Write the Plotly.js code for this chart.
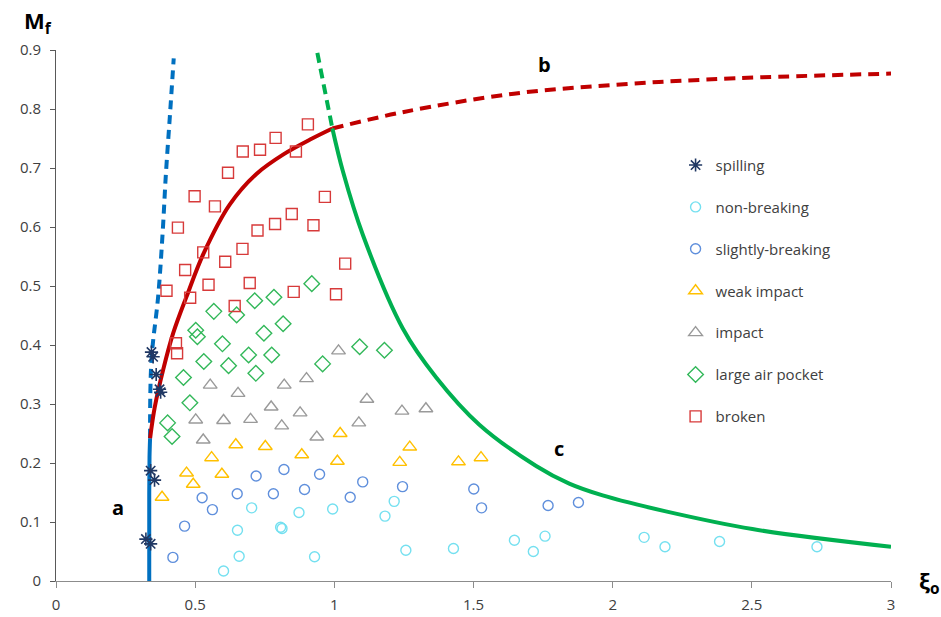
<!DOCTYPE html>
<html>
<head>
<meta charset="utf-8">
<script src="https://cdn.plot.ly/plotly-3.0.1.min.js"></script>
<style>html,body{margin:0;padding:0;background:#fff;}#chart{width:941px;height:617px;}</style>
</head>
<body>
<div id="chart"></div>
<script>
// ---- data ----
const seriesNames = ["spilling","non-breaking","slightly-breaking","weak impact","impact","large air pocket","broken"];

const spillingX = [0.343,0.349,0.360,0.372,0.376,0.340,0.354,0.323,0.340];
const spillingY = [0.388,0.380,0.350,0.325,0.320,0.187,0.171,0.071,0.063];

const nonBreakingX = [0.703,0.873,0.994,0.652,0.807,0.812,0.658,0.929,0.602,1.215,1.182,1.257,1.428,1.647,1.757,1.715,2.113,2.188,2.384,2.734];
const nonBreakingY = [0.124,0.116,0.122,0.086,0.091,0.089,0.042,0.041,0.017,0.135,0.110,0.052,0.055,0.069,0.076,0.050,0.074,0.058,0.067,0.058];

const slightlyX = [0.719,0.819,0.947,1.102,0.525,0.651,0.781,0.893,1.057,0.562,0.462,0.420,1.245,1.501,1.529,1.768,1.877];
const slightlyY = [0.178,0.189,0.181,0.168,0.141,0.148,0.148,0.155,0.142,0.121,0.093,0.040,0.160,0.156,0.124,0.128,0.133];

const weakX = [1.021,0.646,0.752,0.559,0.883,1.011,0.469,0.596,0.493,0.381,1.271,1.235,1.446,1.527];
const weakY = [0.250,0.231,0.228,0.209,0.214,0.203,0.183,0.181,0.164,0.142,0.227,0.201,0.202,0.209];

const impactX = [1.015,0.554,0.654,0.820,0.900,1.117,0.773,0.877,0.502,0.602,0.699,0.811,1.088,0.529,0.937,1.243,1.329];
const impactY = [0.390,0.332,0.318,0.332,0.343,0.308,0.295,0.285,0.273,0.272,0.274,0.263,0.268,0.239,0.244,0.288,0.292];

const airX = [0.919,0.783,0.714,0.567,0.649,0.816,0.747,0.502,0.508,0.598,0.692,0.775,1.091,1.180,0.531,0.620,0.958,0.718,0.458,0.481,0.401,0.417];
const airY = [0.504,0.481,0.475,0.457,0.451,0.436,0.420,0.425,0.414,0.402,0.383,0.383,0.397,0.391,0.372,0.365,0.368,0.352,0.345,0.302,0.268,0.245];

const brokenX = [0.905,0.789,0.733,0.671,0.862,0.618,0.498,0.571,0.966,0.438,0.724,0.787,0.847,0.925,0.529,0.670,0.608,0.464,1.039,0.397,0.548,0.696,0.482,0.854,1.006,0.642,0.431,0.435];
const brokenY = [0.774,0.751,0.731,0.728,0.728,0.692,0.652,0.635,0.651,0.599,0.594,0.605,0.622,0.603,0.557,0.563,0.541,0.527,0.538,0.492,0.502,0.505,0.480,0.490,0.486,0.466,0.403,0.386];

// boundary curves
const curveASolidX = [0.335,0.335,0.336,0.338];
const curveASolidY = [0.000,0.150,0.210,0.242];
const curveADashX = [0.338,0.343,0.367,0.383,0.395,0.409,0.423];
const curveADashY = [0.242,0.375,0.482,0.589,0.691,0.787,0.886];

const curveBSolidX = [0.338,0.355,0.385,0.421,0.469,0.530,0.624,0.720,0.820,0.920,0.993];
const curveBSolidY = [0.242,0.295,0.358,0.420,0.482,0.555,0.638,0.690,0.724,0.750,0.767];
const curveBDashX = [0.993,1.250,1.645,2.040,2.440,3.000];
const curveBDashY = [0.767,0.795,0.826,0.842,0.852,0.860];

const curveCDashX = [0.939,0.993];
const curveCDashY = [0.895,0.767];
const curveCSolidX = [0.993,1.031,1.103,1.246,1.366,1.521,1.725,1.844,1.964,2.191,2.502,3.000];
const curveCSolidY = [0.767,0.694,0.586,0.428,0.345,0.265,0.195,0.165,0.145,0.118,0.088,0.058];

const xTicks = [0,0.5,1,1.5,2,2.5,3];
const xTickText = ["0","0.5","1","1.5","2","2.5","3"];
const yTicks = [0,0.1,0.2,0.3,0.4,0.5,0.6,0.7,0.8,0.9];
const yTickText = ["0","0.1","0.2","0.3","0.4","0.5","0.6","0.7","0.8","0.9"];

// ---- traces ----
function line(x, y, color, dash) {
  return {x:x, y:y, type:'scatter', mode:'lines', showlegend:false, hoverinfo:'skip',
          line:{color:color, width:4, dash:dash, shape:'spline', smoothing:1}};
}
function pts(x, y, name, symbol, color, size, lw) {
  return {x:x, y:y, type:'scatter', mode:'markers', name:name, legendgroup:name,
          marker:{symbol:symbol, size:size, color:color, line:{color:color, width:lw}}};
}

const blue = '#0070c0', red = '#c00000', green = '#00b050';
const traces = [
  line(curveADashX, curveADashY, blue, '9px,6px'),
  line(curveASolidX, curveASolidY, blue, 'solid'),
  line(curveBDashX, curveBDashY, red, '11px,7px'),
  line(curveBSolidX, curveBSolidY, red, 'solid'),
  line(curveCDashX, curveCDashY, green, '10px,6px'),
  line(curveCSolidX, curveCSolidY, green, 'solid'),
  pts(spillingX, spillingY, seriesNames[0], 'asterisk-open', '#203864', 11, 1.6),
  pts(nonBreakingX, nonBreakingY, seriesNames[1], 'circle-open', '#74e0f0', 10, 1.4),
  pts(slightlyX, slightlyY, seriesNames[2], 'circle-open', '#5f8fdc', 10, 1.4),
  pts(weakX, weakY, seriesNames[3], 'triangle-up-open', '#ffc000', 12, 1.4),
  pts(impactX, impactY, seriesNames[4], 'triangle-up-open', '#9a9a9a', 12, 1.4),
  pts(airX, airY, seriesNames[5], 'diamond-open', '#33b85a', 12, 1.4),
  pts(brokenX, brokenY, seriesNames[6], 'square-open', '#d73a3a', 11, 1.4)
];

const fam = '"Open Sans", "Liberation Sans", sans-serif';
const tickFont = {family:fam, size:15, color:'#404040'};
const layout = {
  width:941, height:617,
  margin:{l:56, r:50, t:50, b:36, pad:0},
  paper_bgcolor:'#ffffff', plot_bgcolor:'#ffffff',
  font:{family:fam, color:'#404040'},
  xaxis:{range:[0,3], tickvals:xTicks, ticktext:xTickText, ticks:'outside', ticklen:6, tickcolor:'#8c8c8c',
         showline:true, linecolor:'#8c8c8c', linewidth:1, showgrid:false, zeroline:false,
         tickfont:tickFont, ticklabelstandoff:4, fixedrange:true},
  yaxis:{range:[0,0.9], tickvals:yTicks, ticktext:yTickText, ticks:'outside', ticklen:5, tickcolor:'#595959',
         showline:true, linecolor:'#595959', linewidth:1, showgrid:false, zeroline:false,
         tickfont:tickFont, ticklabelstandoff:6, fixedrange:true},
  showlegend:true,
  legend:{x:0.742, y:0.814, xanchor:'left', yanchor:'top', bgcolor:'rgba(0,0,0,0)',
          font:{family:fam, size:15, color:'#404040'},
          traceorder:'grouped', tracegroupgap:19.4, itemwidth:30},
  annotations:[
    {xref:'paper', yref:'paper', x:-0.022, y:1.052, xanchor:'center', yanchor:'middle', showarrow:false,
     text:'<b>M<sub>f</sub></b>', font:{family:fam, size:22, color:'#000'}},
    {xref:'paper', yref:'paper', x:1.046, y:-0.002, xanchor:'center', yanchor:'middle', showarrow:false,
     text:'<b>ξ<sub>o</sub></b>', font:{family:fam, size:22, color:'#000'}},
    {xref:'x', yref:'y', x:0.222, y:0.124, showarrow:false, text:'<b>a</b>',
     font:{family:fam, size:20, color:'#000'}},
    {xref:'x', yref:'y', x:1.755, y:0.876, showarrow:false, text:'<b>b</b>',
     font:{family:fam, size:20, color:'#000'}},
    {xref:'x', yref:'y', x:1.808, y:0.225, showarrow:false, text:'<b>c</b>',
     font:{family:fam, size:20, color:'#000'}}
  ]
};

Plotly.newPlot('chart', traces, layout, {displayModeBar:false, staticPlot:true});
</script>
</body>
</html>
